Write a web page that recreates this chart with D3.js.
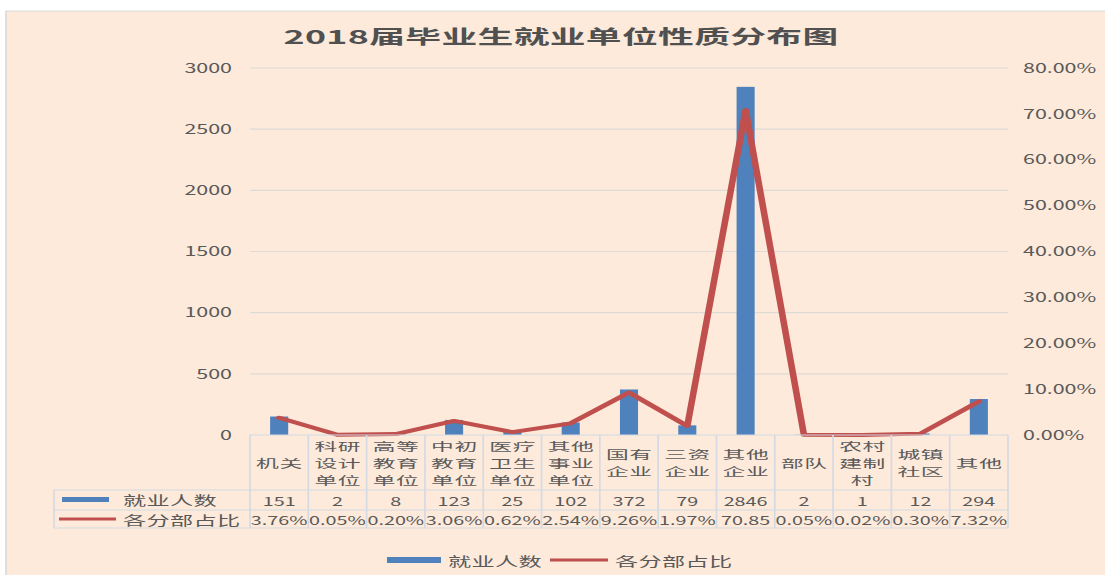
<!DOCTYPE html>
<html>
<head>
<meta charset="utf-8">
<script src="https://cdn.jsdelivr.net/npm/d3@7"></script>
<style>
  body { margin: 0; background: #fff; }
  text { font-family: "Noto Sans CJK SC", "Noto Sans", sans-serif; fill: #595959; }
</style>
</head>
<body>
<svg id="chart"></svg>
<script>
// chart values
const title = "2018届毕业生就业单位性质分布图";
const categories = ["机关", "科研设计单位", "高等教育单位", "中初教育单位", "医疗卫生单位", "其他事业单位",
  "国有企业", "三资企业", "其他企业", "部队", "农村建制村", "城镇社区", "其他"];
const counts = [151, 2, 8, 123, 25, 102, 372, 79, 2846, 2, 1, 12, 294];
const shares = [0.0376, 0.0005, 0.0020, 0.0306, 0.0062, 0.0254, 0.0926, 0.0197, 0.7085, 0.0005, 0.0002, 0.0030, 0.0732];
const seriesNames = ["就业人数", "各分部占比"];
const countTicks = [0, 500, 1000, 1500, 2000, 2500, 3000];
const shareTicks = [0, 0.1, 0.2, 0.3, 0.4, 0.5, 0.6, 0.7, 0.8];

// the reference is stretched sideways, so draw in a narrower space and stretch it
const S = 1.65;
const W = 1105 / S, H = 575;
const px = v => v / S;

const blue = "#4f81bd", red = "#c0504d", border = "#d3dae4";
const plotL = px(250), plotR = px(1008), plotT = 68, base = 435;
const rowA = 490, rowB = 510, rowC = 528;

const svg = d3.select("#chart")
  .attr("width", 1105).attr("height", H)
  .attr("viewBox", `0 0 ${W} ${H}`)
  .attr("preserveAspectRatio", "none");

svg.append("rect")
  .attr("x", px(6)).attr("y", 11).attr("width", W).attr("height", H)
  .attr("fill", "#fdeadb").attr("stroke", "#d9d9d9").attr("stroke-width", 1);

svg.append("text")
  .attr("transform", `translate(${px(561)},36) scale(1.14,1)`)
  .attr("text-anchor", "middle").attr("dominant-baseline", "central")
  .attr("font-size", 19).attr("font-weight", "bold").attr("letter-spacing", 0.2)
  .style("fill", "#505050")
  .text(title);

const x = d3.scaleBand().domain(d3.range(categories.length)).range([plotL, plotR]);
const y = d3.scaleLinear().domain([0, 3000]).range([base, plotT]);
const y2 = d3.scaleLinear().domain([0, 0.8]).range([base, plotT]);
const bw = x.bandwidth() * 0.31;
const cx = i => x(i) + x.bandwidth() / 2;

// gridlines
svg.append("g").selectAll("line")
  .data(countTicks.filter(d => d > 0))
  .join("line")
  .attr("x1", plotL).attr("x2", plotR)
  .attr("y1", d => y(d)).attr("y2", d => y(d))
  .attr("stroke", "#dedad6").attr("stroke-width", 1.2);

const gl = svg.append("g")
  .attr("transform", `translate(${plotL},0)`)
  .call(d3.axisLeft(y).tickValues(countTicks).tickFormat(d3.format("d")).tickSize(0).tickPadding(px(18)));
const gr = svg.append("g")
  .attr("transform", `translate(${plotR},0)`)
  .call(d3.axisRight(y2).tickValues(shareTicks).tickFormat(d3.format(".2%")).tickSize(0).tickPadding(px(15)));
[gl, gr].forEach(g => {
  g.select(".domain").remove();
  g.attr("font-size", 13).attr("font-family", null);
  g.selectAll("text").attr("fill", null);
});

// bars
svg.append("g").selectAll("rect")
  .data(counts)
  .join("rect")
  .attr("x", (d, i) => cx(i) - bw / 2)
  .attr("y", d => y(d))
  .attr("width", bw)
  .attr("height", d => base - y(d))
  .attr("fill", blue);

// share line
svg.append("path")
  .datum(shares)
  .attr("fill", "none")
  .attr("stroke", red).attr("stroke-width", 4)
  .attr("stroke-linejoin", "round").attr("stroke-linecap", "round")
  .attr("d", d3.line().x((d, i) => cx(i)).y(d => y2(d)));

// data table
const tb = svg.append("g").attr("stroke", border).attr("stroke-width", 1);
tb.append("line").attr("x1", plotL).attr("x2", plotR).attr("y1", base).attr("y2", base);
[rowA, rowB, rowC].forEach(r =>
  tb.append("line").attr("x1", px(54)).attr("x2", plotR).attr("y1", r).attr("y2", r));
tb.append("line").attr("x1", px(54)).attr("x2", px(54)).attr("y1", rowA).attr("y2", rowC);
tb.selectAll(".col")
  .data(d3.range(categories.length + 1))
  .join("line")
  .attr("x1", i => plotL + i * x.step()).attr("x2", i => plotL + i * x.step())
  .attr("y1", base).attr("y2", rowC);

const heads = svg.append("g").selectAll("text")
  .data(categories)
  .join("text")
  .attr("transform", (d, i) => `translate(${cx(i)},0) scale(1.2,1)`)
  .attr("text-anchor", "middle")
  .attr("font-size", 11.5).attr("letter-spacing", 0.3);
heads.each(function (d) {
  const lines = d.match(/.{1,2}/g);
  const mid = (base + rowA) / 2, lh = 17;
  d3.select(this).selectAll("tspan")
    .data(lines)
    .join("tspan")
    .attr("x", 0.15)
    .attr("y", (l, k) => mid + (k - (lines.length - 1) / 2) * lh)
    .attr("dominant-baseline", "central")
    .text(l => l);
});

svg.append("g").selectAll("text")
  .data(counts)
  .join("text")
  .attr("x", (d, i) => cx(i)).attr("y", (rowA + rowB) / 2 + 0.5)
  .attr("text-anchor", "middle").attr("dominant-baseline", "central")
  .attr("font-size", 12)
  .text(d => d);

const pct = d3.format(".2%");
svg.append("g").selectAll("text")
  .data(shares)
  .join("text")
  .attr("x", (d, i) => cx(i)).attr("y", (rowB + rowC) / 2 + 0.5)
  .attr("text-anchor", "middle").attr("dominant-baseline", "central")
  .attr("font-size", 12)
  .text(d => pct(d))
  .each(function () {
    // the table drops characters that do not fit in a cell
    const t = d3.select(this);
    let s = t.text();
    while (this.getComputedTextLength() > x.bandwidth() * 1.06 && s.length > 1) {
      s = s.slice(0, -1);
      t.text(s);
    }
  });

// legend keys in the table
svg.append("rect").attr("x", px(62)).attr("y", 497).attr("width", px(109) - px(62)).attr("height", 5).attr("fill", blue);
svg.append("line").attr("x1", px(59)).attr("x2", px(116)).attr("y1", 519).attr("y2", 519)
  .attr("stroke", red).attr("stroke-width", 3);
svg.append("g").selectAll("text")
  .data(seriesNames)
  .join("text")
  .attr("transform", (d, i) => `translate(${px(123)},${i ? 519 : 499.5}) scale(1.08,1)`)
  .attr("dominant-baseline", "central")
  .attr("font-size", 13).attr("letter-spacing", 0.2)
  .text(d => d);

// bottom legend
const lg = svg.append("g");
lg.append("rect").attr("x", px(387)).attr("y", 557).attr("width", px(441) - px(387)).attr("height", 6).attr("fill", blue);
lg.append("text").attr("transform", `translate(${px(448)},560) scale(1.08,1)`).attr("dominant-baseline", "central")
  .attr("font-size", 13).attr("letter-spacing", 0.2).text(seriesNames[0]);
lg.append("line").attr("x1", px(550)).attr("x2", px(608)).attr("y1", 560).attr("y2", 560)
  .attr("stroke", red).attr("stroke-width", 3);
lg.append("text").attr("transform", `translate(${px(615)},560) scale(1.08,1)`).attr("dominant-baseline", "central")
  .attr("font-size", 13).attr("letter-spacing", 0.2).text(seriesNames[1]);
</script>
</body>
</html>
